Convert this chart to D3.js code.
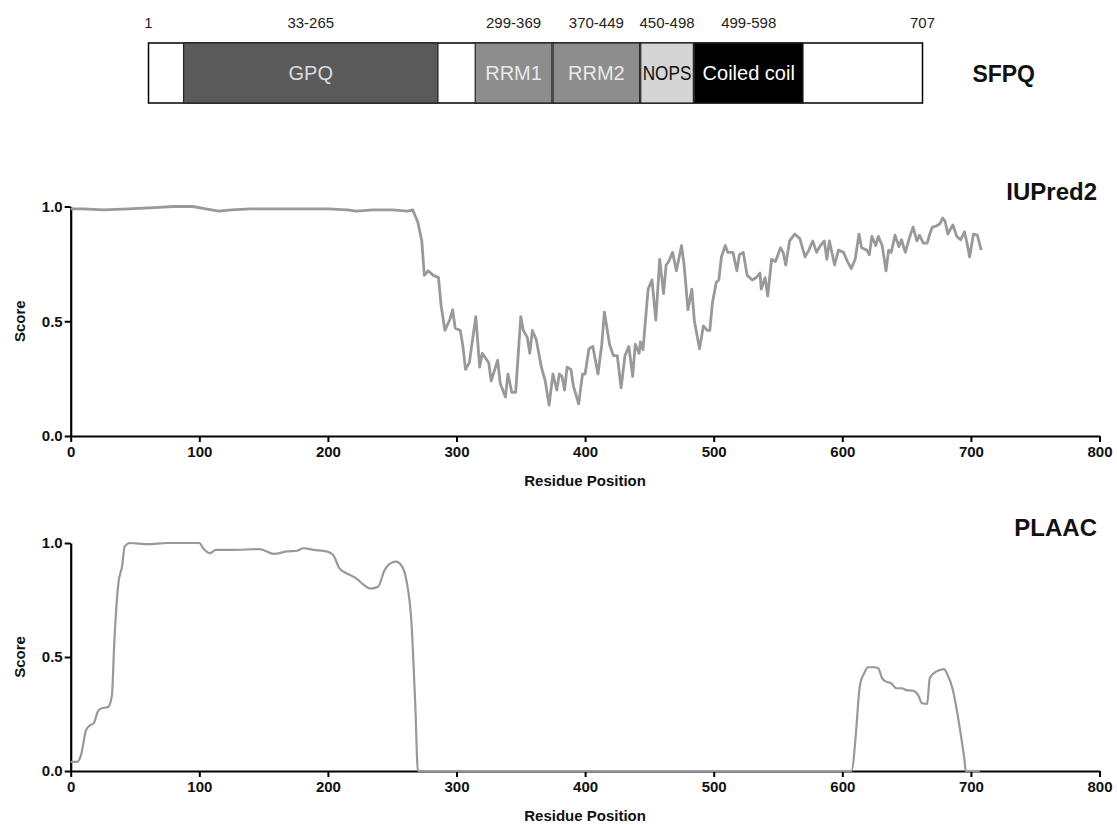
<!DOCTYPE html>
<html>
<head>
<meta charset="utf-8">
<script src="https://cdn.jsdelivr.net/npm/d3@7"></script>
<style>
  html, body { margin: 0; padding: 0; background: #fff; }
  svg { display: block; font-family: "Liberation Sans", Arial, Helvetica, sans-serif; }
</style>
</head>
<body>
<svg id="chart" width="1117" height="825"></svg>
<script>
// ---------------- DATA ----------------
const proteinName = "SFPQ";
const proteinLength = 707;
const domainNames  = ["GPQ", "RRM1", "RRM2", "NOPS", "Coiled coil"];
const domainStarts = [33, 299, 370, 450, 499];
const domainEnds   = [265, 369, 449, 498, 598];
const domainFills  = ["#5a5a5a", "#8d8d8d", "#8d8d8d", "#d5d5d5", "#000000"];
const domainTextColors = ["#dcdcdc", "#e8e8e8", "#e8e8e8", "#111111", "#ffffff"];

const xTicks = [0, 100, 200, 300, 400, 500, 600, 700, 800];
const yTicks = [0, 0.5, 1.0];

const iupredPos = [0,10,25,45,65,80,95,105,115,125,140,160,180,200,215,222,235,250,262,266,
  270,273,275,278,282,286,288,291,295,297,299,303,305,307,310,315,318,320,325,327,332,334,338,340,343,346,
  350,352,355,357,359,362,366,369,372,375,378,380,382,384,386,389,391,395,398,400,403,406,410,413,415,419,
  422,425,428,431,434,437,439,442,443,445,449,452,455,458,461,463,465,468,471,475,477,480,483,485,489,492,
  495,497,499,502,504,506,509,511,515,518,520,523,526,530,533,536,537,540,542,545,548,552,554,556,559,563,
  567,571,574,577,580,583,586,588,590,594,597,601,604,607,610,613,615,619,621,623,626,628,631,634,636,638,
  641,644,646,649,652,655,658,660,663,666,668,670,673,676,678,680,682,686,689,692,695,697,699,702,705,708];
const iupredScore = [0.99,0.99,0.985,0.99,0.995,1.0,1.0,0.99,0.98,0.985,0.99,0.99,0.99,0.99,0.985,0.98,0.985,0.985,0.98,0.985,
  0.93,0.85,0.70,0.72,0.70,0.69,0.57,0.46,0.51,0.55,0.47,0.46,0.39,0.29,0.32,0.52,0.30,0.36,0.32,0.24,0.33,0.23,0.17,0.27,0.19,0.19,
  0.52,0.46,0.43,0.36,0.46,0.42,0.30,0.24,0.135,0.27,0.20,0.27,0.26,0.20,0.30,0.29,0.215,0.14,0.27,0.27,0.38,0.39,0.27,0.40,0.54,0.40,
  0.35,0.35,0.21,0.35,0.39,0.26,0.40,0.36,0.41,0.375,0.64,0.68,0.505,0.77,0.62,0.745,0.76,0.80,0.72,0.83,0.745,0.55,0.64,0.50,0.38,0.48,
  0.46,0.46,0.58,0.67,0.68,0.78,0.83,0.80,0.80,0.72,0.79,0.80,0.70,0.68,0.69,0.71,0.64,0.69,0.61,0.77,0.76,0.82,0.80,0.745,0.85,0.88,
  0.86,0.78,0.81,0.85,0.80,0.83,0.85,0.77,0.85,0.745,0.81,0.80,0.76,0.73,0.77,0.88,0.82,0.81,0.79,0.87,0.83,0.87,0.83,0.72,0.81,0.80,
  0.875,0.825,0.855,0.80,0.86,0.91,0.85,0.875,0.84,0.84,0.88,0.91,0.915,0.925,0.95,0.935,0.88,0.92,0.87,0.855,0.89,0.84,0.78,0.88,0.875,0.81];

const plaacPos = [0,5,8,12,15,18,21,24,29,32,34,37,40,42,46,60,75,100,103,108,113,126,147,158,168,176,181,189,199,204,209,217,222,228,233,239,244,248,253,257,261,265,268,270,
  400,500,607,611,612.5,614,617,620,625,628,631,634,638,642,646,650,655,659,662,666,668,671,676,679,682,686,689,692,695,696,707];
const plaacScore = [0.04,0.04,0.07,0.18,0.20,0.21,0.26,0.275,0.28,0.33,0.575,0.82,0.90,0.985,1.0,0.995,1.0,1.0,0.977,0.955,0.97,0.97,0.973,0.952,0.963,0.966,0.977,0.97,0.963,0.948,0.889,0.86,0.845,0.816,0.80,0.808,0.88,0.908,0.918,0.903,0.838,0.648,0.282,0,
  0,0,0,0.194,0.311,0.385,0.428,0.455,0.455,0.45,0.406,0.392,0.385,0.363,0.363,0.355,0.352,0.333,0.297,0.294,0.406,0.428,0.443,0.447,0.42,0.355,0.268,0.165,0.048,0,0];

// ---------------- DRAW ----------------
const svg = d3.select("#chart");
const FONT_AXIS = 15;

// Domain schematic
const bx = d3.scaleLinear().domain([1, proteinLength]).range([148.5, 922.5]);
const barTop = 43, barH = 60;
const gBar = svg.append("g");
gBar.append("rect").attr("x", bx(1)).attr("y", barTop).attr("width", bx(proteinLength) - bx(1)).attr("height", barH)
  .attr("fill", "#fff").attr("stroke", "#000").attr("stroke-width", 1.5);
domainNames.forEach((name, i) => {
  const x0 = bx(domainStarts[i]), x1 = bx(domainEnds[i]);
  gBar.append("rect").attr("x", x0).attr("y", barTop).attr("width", x1 - x0).attr("height", barH)
    .attr("fill", domainFills[i]).attr("stroke", "#222").attr("stroke-width", 1.2);
  const t = gBar.append("text").attr("x", (x0 + x1) / 2).attr("y", barTop + barH / 2 + 7)
    .attr("text-anchor", "middle").attr("font-size", 20).attr("fill", domainTextColors[i]).text(name);
  const avail = (x1 - x0) - 4;
  const w = t.node().getComputedTextLength();
  if (w > avail) t.attr("textLength", avail).attr("lengthAdjust", "spacingAndGlyphs");
  gBar.append("text").attr("x", (x0 + x1) / 2).attr("y", 28)
    .attr("text-anchor", "middle").attr("font-size", 15).attr("fill", "#222")
    .text(domainStarts[i] + "-" + domainEnds[i]);
});
gBar.append("text").attr("x", bx(1)).attr("y", 28).attr("text-anchor", "middle").attr("font-size", 15).attr("fill", "#222").text("1");
gBar.append("text").attr("x", bx(proteinLength)).attr("y", 28).attr("text-anchor", "middle").attr("font-size", 15).attr("fill", "#222").text(String(proteinLength));
gBar.append("text").attr("x", 1035).attr("y", 82).attr("text-anchor", "end").attr("font-size", 23).attr("font-weight", "bold").attr("fill", "#111").text(proteinName);

// Plot panels
function panel(pos, score, yTop, yBottom, title, curve, lineWidth) {
  const x = d3.scaleLinear().domain([0, 800]).range([70.7, 1099.5]);
  const y = d3.scaleLinear().domain([0, 1]).range([yBottom, yTop]);
  const g = svg.append("g");

  const xAxis = g.append("g").attr("transform", `translate(0,${yBottom})`)
    .call(d3.axisBottom(x).tickValues(xTicks).tickSize(6).tickSizeOuter(0).tickPadding(4).tickFormat(d3.format("d")));
  const yAxis = g.append("g").attr("transform", `translate(${x(0)},0)`)
    .call(d3.axisLeft(y).tickValues(yTicks).tickSize(6).tickSizeOuter(0).tickPadding(2).tickFormat(d3.format(".1f")));
  [xAxis, yAxis].forEach(a => {
    a.select(".domain").attr("stroke", "#000").attr("stroke-width", 2.2);
    a.selectAll(".tick line").attr("stroke", "#000").attr("stroke-width", 2);
    a.selectAll(".tick text").attr("font-size", FONT_AXIS).attr("font-weight", "bold").attr("fill", "#111")
      .attr("font-family", "'Liberation Sans', Arial, sans-serif");
  });

  const line = d3.line().x((d, i) => x(pos[i])).y((d, i) => y(score[i])).curve(curve);
  g.append("path").datum(score).attr("d", line).attr("fill", "none")
    .attr("stroke", "#999").attr("stroke-width", lineWidth).attr("stroke-linejoin", "round");

  g.append("text").attr("transform", `translate(25,${(yTop + yBottom) / 2}) rotate(-90)`)
    .attr("text-anchor", "middle").attr("font-size", FONT_AXIS).attr("font-weight", "bold").attr("fill", "#111").text("Score");
  g.append("text").attr("x", x(400)).attr("y", yBottom + 50)
    .attr("text-anchor", "middle").attr("font-size", FONT_AXIS).attr("font-weight", "bold").attr("fill", "#111").text("Residue Position");
  g.append("text").attr("x", 1097).attr("y", yTop - 7)
    .attr("text-anchor", "end").attr("font-size", 24).attr("font-weight", "bold").attr("fill", "#111").text(title);
}

panel(iupredPos, iupredScore, 206.5, 436, "IUPred2", d3.curveLinear, 2.8);
panel(plaacPos, plaacScore, 543, 771, "PLAAC", d3.curveMonotoneX, 2.2);
</script>
</body>
</html>
